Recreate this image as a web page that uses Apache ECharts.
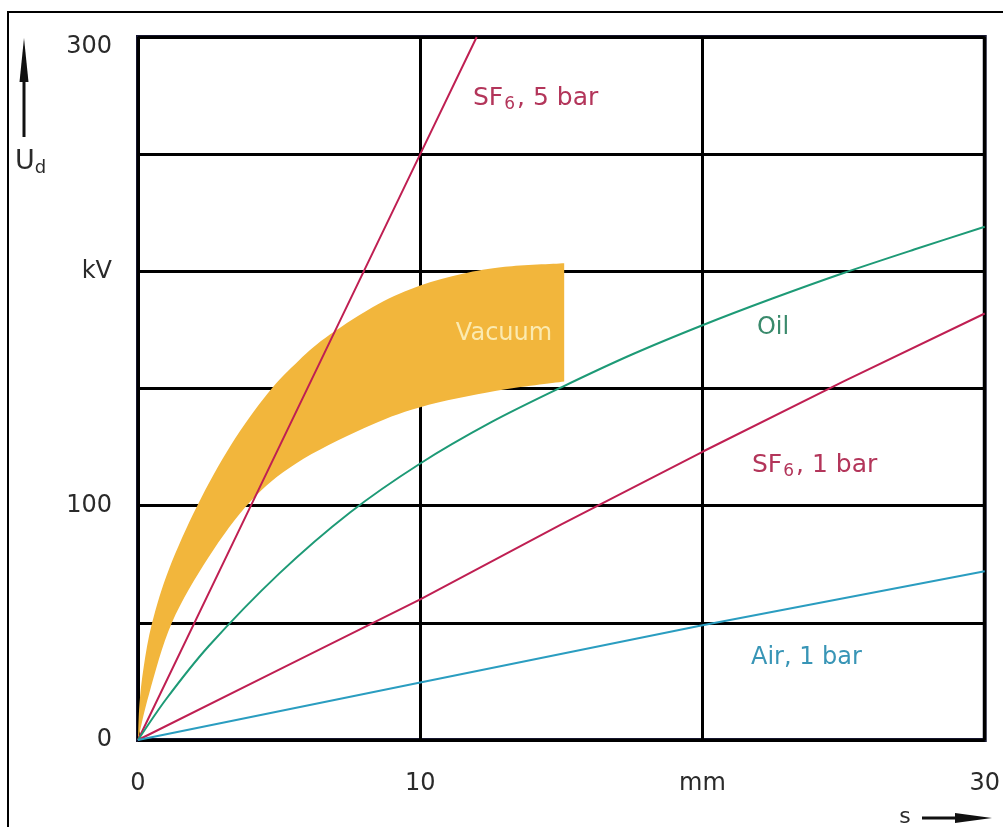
<!DOCTYPE html>
<html>
<head>
<meta charset="utf-8">
<script src="https://cdn.jsdelivr.net/npm/echarts@6/dist/echarts.min.js"></script>
<style>
html,body{margin:0;padding:0;background:#fff;}
#chart{width:1003px;height:827px;}
</style>
</head>
<body>
<div id="chart"></div>
<script>
// ---- data (s in mm, Ud in kV) ----
const xTickValues = [0, 10, 20, 30];
const xTickLabels = ['0', '10', 'mm', '30'];
const yTickValues = [0, 100, 200, 300];
const yTickLabels = ['0', '100', 'kV', '300'];

const sf6_5bar = [[0,0],[4,100],[10,250],[12,300]];
const sf6_1bar = [[0,0],[5,30],[10,60],[15,92],[20,123],[25,153],[30,182]];
const air_1bar = [[0,0],[10,24.5],[20,49],[30,72]];
const oil = [[0,0],[1,17.5],[2.5,40],[5,71],[7.5,97],[10,118],[12.5,135.5],[15,150.5],[17.5,164.5],[20,177],[22.5,188.5],[25,199.3],[27.5,209.3],[30,219]];
const vacuumUpper = [[0,0],[0.05,15],[0.2,31],[0.5,50],[1.1,73],[2.1,100],[3.3,126],[4.6,148],[5.7,162],[6.8,173],[8.5,186],[10,194],[11.5,199],[13,202],[15.1,203.5]];
const vacuumLower = [[0,0],[0.4,20],[1.2,50],[2.5,78],[4.0,102],[5.6,118],[8.0,133],[10,142],[12.7,149],[15.1,153]];

const FONT = 'DejaVu Sans';
const chart = echarts.init(document.getElementById('chart'));

function lineSeries(name, data, color) {
  return {
    name, type: 'line', data, showSymbol: false, smooth: name === 'Oil' ? 0.3 : false,
    lineStyle: { color, width: 2 }, z: 5, silent: true, animation: false
  };
}

// Catmull-Rom spline through pixel points -> SVG path segment (rendering only)
function splinePath(pts, moveFirst) {
  let d = moveFirst ? 'M' + pts[0][0] + ' ' + pts[0][1] : 'L' + pts[0][0] + ' ' + pts[0][1];
  for (let i = 0; i < pts.length - 1; i++) {
    const p0 = pts[Math.max(0, i - 1)], p1 = pts[i], p2 = pts[i + 1], p3 = pts[Math.min(pts.length - 1, i + 2)];
    const c1 = [p1[0] + (p2[0] - p0[0]) / 6, p1[1] + (p2[1] - p0[1]) / 6];
    const c2 = [p2[0] - (p3[0] - p1[0]) / 6, p2[1] - (p3[1] - p1[1]) / 6];
    d += ' C' + c1[0] + ' ' + c1[1] + ' ' + c2[0] + ' ' + c2[1] + ' ' + p2[0] + ' ' + p2[1];
  }
  return d;
}

chart.setOption({
  animation: false,
  backgroundColor: '#fff',
  grid: { left: 138, right: 18, top: 37, bottom: 87, show: true, borderColor: '#15152e', borderWidth: 4, backgroundColor: 'transparent' },
  xAxis: {
    type: 'value', min: 0, max: 30, interval: 10,
    axisLine: { show: false }, axisTick: { show: false },
    splitLine: { show: true, lineStyle: { color: '#000', width: 3 } },
    axisLabel: {
      margin: 32, fontSize: 24, color: '#2a2a2a', fontFamily: FONT,
      formatter: v => { const i = xTickValues.indexOf(v); return i >= 0 ? xTickLabels[i] : ''; }
    }
  },
  yAxis: {
    type: 'value', min: 0, max: 300, interval: 50,
    axisLine: { show: false }, axisTick: { show: false },
    splitLine: { show: true, lineStyle: { color: '#000', width: 3 } },
    axisLabel: {
      margin: 26, fontSize: 24, color: '#2a2a2a', fontFamily: FONT,
      formatter: v => { const i = yTickValues.indexOf(v); if (i < 0) return ''; return v === 300 ? '{t|' + yTickLabels[i] + '}' : yTickLabels[i]; },
      rich: { t: { fontSize: 24, color: '#2a2a2a', fontFamily: FONT, padding: [20, 0, 0, 0] } }
    }
  },
  series: [
    {
      type: 'custom', coordinateSystem: 'cartesian2d', data: [[0, 0]], silent: true, z: 3,
      renderItem: (params, api) => {
        const up = vacuumUpper.map(p => api.coord(p));
        const lo = vacuumLower.slice().reverse().map(p => api.coord(p));
        const d = splinePath(up, true) + ' ' + splinePath(lo, false) + ' Z';
        return { type: 'path', shape: { pathData: d }, style: { fill: '#f2b63c' } };
      }
    },
    lineSeries('SF6, 5 bar', sf6_5bar, '#bf1f52'),
    lineSeries('SF6, 1 bar', sf6_1bar, '#bf1f52'),
    lineSeries('Oil', oil, '#1d9a76'),
    lineSeries('Air, 1 bar', air_1bar, '#2a9dc0')
  ],
  graphic: [
    { type: 'rect', z: 100, shape: { x: 8, y: 12, width: 1300, height: 1000 }, style: { fill: null, stroke: '#000', lineWidth: 2 } },
    // y axis name with arrow
    { type: 'line', z: 100, shape: { x1: 24, y1: 137, x2: 24, y2: 60 }, style: { stroke: '#111', lineWidth: 3 } },
    { type: 'polygon', z: 100, shape: { points: [[24, 38], [19.5, 82], [28.5, 82]] }, style: { fill: '#111' } },
    { type: 'text', z: 100, x: 15, y: 162, style: {
        text: '{a|U}{s|d}', verticalAlign: 'middle',
        rich: { a: { fontSize: 27, fontFamily: FONT, fill: '#2a2a2a' }, s: { fontSize: 18, fontFamily: FONT, fill: '#2a2a2a', padding: [12, 0, 0, 0] } }
      } },
    // x axis name with arrow
    { type: 'text', z: 100, x: 905, y: 817, style: { text: 's', fontSize: 22, fontFamily: FONT, fill: '#2a2a2a', align: 'center', verticalAlign: 'middle' } },
    { type: 'line', z: 100, shape: { x1: 922, y1: 818, x2: 965, y2: 818 }, style: { stroke: '#111', lineWidth: 3 } },
    { type: 'polygon', z: 100, shape: { points: [[992, 818], [955, 813], [955, 823]] }, style: { fill: '#111' } },
    // series labels
    { type: 'text', z: 100, x: 473, y: 98, style: {
        text: '{a|SF}{s|6}{a|, 5 bar}', verticalAlign: 'middle',
        rich: { a: { fontSize: 25, fontFamily: FONT, fill: '#b3355a' }, s: { fontSize: 17, fontFamily: FONT, fill: '#b3355a', padding: [13, 2, 0, 1] } }
      } },
    { type: 'text', z: 100, x: 752, y: 465, style: {
        text: '{a|SF}{s|6}{a|, 1 bar}', verticalAlign: 'middle',
        rich: { a: { fontSize: 25, fontFamily: FONT, fill: '#b3355a' }, s: { fontSize: 17, fontFamily: FONT, fill: '#b3355a', padding: [13, 2, 0, 1] } }
      } },
    { type: 'text', z: 100, x: 773, y: 328, style: { text: 'Oil', fontSize: 24, fontFamily: FONT, fill: '#3a8a6c', align: 'center', verticalAlign: 'middle' } },
    { type: 'text', z: 100, x: 751, y: 658, style: { text: 'Air, 1 bar', fontSize: 24, fontFamily: FONT, fill: '#3895b6', verticalAlign: 'middle' } },
    { type: 'text', z: 100, x: 504, y: 334, style: { text: 'Vacuum', fontSize: 24, fontFamily: FONT, fill: '#fbeab0', align: 'center', verticalAlign: 'middle' } }
  ]
});
</script>
</body>
</html>
